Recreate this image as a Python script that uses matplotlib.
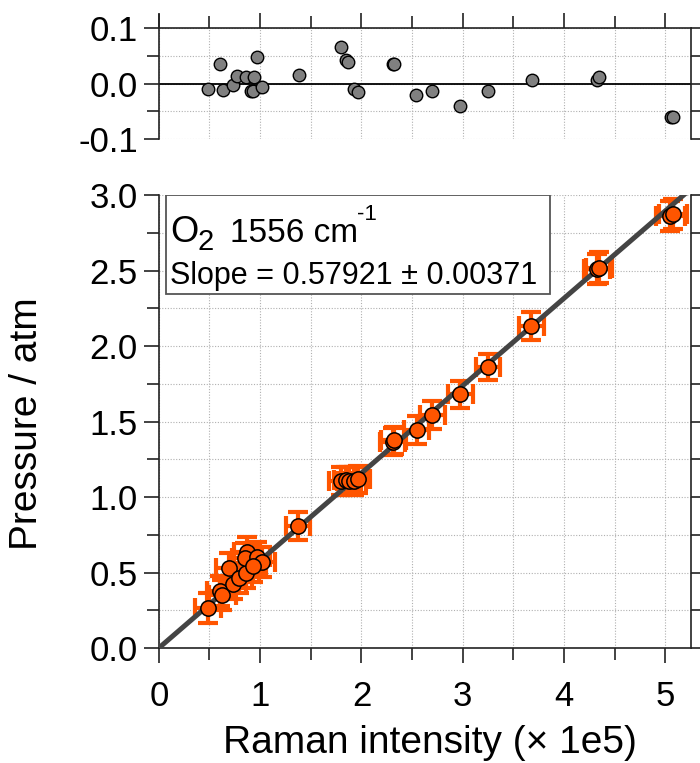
import numpy as np
import matplotlib
matplotlib.use("Agg")
import matplotlib.pyplot as plt
from matplotlib.patches import Rectangle
from matplotlib.ticker import MultipleLocator, FormatStrFormatter

plt.rcParams['font.family'] = ['Liberation Sans', 'DejaVu Sans']
plt.rcParams['axes.unicode_minus'] = False

# ---- residual panel ----
res_x = [0.484, 0.605, 0.629, 0.730, 0.771, 0.858, 0.909, 0.934, 0.941, 0.968, 1.017,
         1.383, 1.798, 1.850, 1.867, 1.926, 1.964, 2.306, 2.317, 2.541, 2.700,
         2.977, 3.247, 3.683, 4.322, 4.346, 5.055, 5.076]
res_y = [-0.009, 0.036, -0.011, -0.003, 0.013, 0.012, -0.013, -0.014, 0.011, 0.047, -0.007,
         0.016, 0.066, 0.042, 0.038, -0.009, -0.015, 0.035, 0.035, -0.021, -0.013,
         -0.041, -0.014, 0.006, 0.007, 0.012, -0.061, -0.061]

# ---- calibration points (Raman intensity x1e5, pressure in atm) ----
intensity = [0.488, 0.603, 0.627, 0.729, 0.696, 0.794, 0.860, 0.873, 0.850, 0.965, 1.015, 0.930,
             1.376, 1.797, 1.850, 1.879, 1.928, 1.967, 2.306, 2.317, 2.543, 2.700,
             2.977, 3.250, 3.677, 4.324, 4.344, 5.048, 5.074]
pressure = [0.267, 0.380, 0.351, 0.422, 0.528, 0.462, 0.495, 0.638, 0.594, 0.605, 0.572, 0.540,
            0.808, 1.106, 1.112, 1.106, 1.106, 1.117, 1.366, 1.375, 1.444, 1.543,
            1.680, 1.863, 2.132, 2.508, 2.520, 2.860, 2.872]
intensity_err = [0.13] * 12 + [0.12, 0.12, 0.12, 0.12, 0.12, 0.12, 0.12, 0.12, 0.12, 0.12,
                               0.12, 0.12, 0.12, 0.13, 0.13, 0.14, 0.14]
pressure_err = [0.10] * 12 + [0.094, 0.09, 0.09, 0.09, 0.09, 0.09, 0.09, 0.09, 0.09, 0.09,
                              0.09, 0.085, 0.09, 0.10, 0.10, 0.10, 0.10]

slope = 0.57921
slope_err = 0.00371

orange = '#ff5500'
spine_col = '#222222'

fig = plt.figure(figsize=(7, 7.63), dpi=100)
ax_r = fig.add_axes([0.2269, 0.8178, 0.760, 0.1455])
ax = fig.add_axes([0.2269, 0.1507, 0.760, 0.5937])

xmax = 5.25

# residuals
ax_r.axhline(0, color='k', lw=1.3, zorder=2)
ax_r.plot(res_x, res_y, 'o', ms=9, mfc='#808080', mec='k', mew=1.0, zorder=3)
ax_r.set_xlim(0, xmax)
ax_r.set_ylim(-0.1, 0.1)
ax_r.xaxis.set_major_locator(MultipleLocator(1))
ax_r.xaxis.set_minor_locator(MultipleLocator(0.5))
ax_r.yaxis.set_major_locator(MultipleLocator(0.1))
ax_r.yaxis.set_minor_locator(MultipleLocator(0.05))
ax_r.xaxis.tick_top()
ax_r.yaxis.set_ticks_position('both')
ax_r.tick_params(labeltop=False, labelbottom=False, labelright=False)
ax_r.spines['bottom'].set_visible(False)
ax_r.yaxis.set_major_formatter(FormatStrFormatter('%.1f'))
# left axis line runs a little above the top axis, as in the original
ax_r.plot([0, 0], [1, 1.13], transform=ax_r.transAxes, color=spine_col, lw=1.2,
          clip_on=False, solid_capstyle='butt')

# main panel
ax.errorbar(intensity, pressure, xerr=intensity_err, yerr=pressure_err, fmt='none',
            ecolor=orange, elinewidth=3.0, capsize=7, capthick=3.0, zorder=2)
fit_x = np.array([0, xmax])
ax.plot(fit_x, slope * fit_x, color='#444444', lw=3.6, zorder=3, solid_capstyle='butt')
ax.plot(intensity, pressure, 'o', ms=11, mfc=orange, mec='k', mew=1.1, zorder=4)
ax.set_xlim(0, xmax)
ax.set_ylim(0, 3.0)
ax.xaxis.set_major_locator(MultipleLocator(1))
ax.xaxis.set_minor_locator(MultipleLocator(0.5))
ax.yaxis.set_major_locator(MultipleLocator(0.5))
ax.yaxis.set_minor_locator(MultipleLocator(0.25))
ax.yaxis.set_ticks_position('both')
ax.tick_params(labelright=False)
ax.spines['top'].set_visible(False)
ax.yaxis.set_major_formatter(FormatStrFormatter('%.1f'))

for a in (ax, ax_r):
    a.grid(which='both', linestyle=(0, (1, 1.5)), color='#b0b0b0', linewidth=0.8, zorder=0)
    a.set_axisbelow(True)
    for s in a.spines.values():
        s.set_linewidth(1.2)
        s.set_color(spine_col)
    a.tick_params(which='major', direction='out', length=11, width=1.2, color=spine_col,
                  labelsize=25, pad=4)
    a.tick_params(which='minor', direction='out', length=8.5, width=1.2, color=spine_col)
ax.tick_params(axis='x', which='major', pad=12)

# annotation box
ax.add_patch(Rectangle((0.07, 2.345), 3.79, 0.655, facecolor='white', edgecolor='#555555',
                       lw=1.3, zorder=5))
ax.text(0.110, 2.689, 'O', fontsize=26, va='baseline', ha='left', zorder=6)
ax.text(0.386, 2.636, '2', fontsize=21, va='baseline', ha='left', zorder=6)
ax.text(0.702, 2.689, '1556 cm', fontsize=24, va='baseline', ha='left', zorder=6)
ax.text(1.955, 2.834, '-1', fontsize=16, va='baseline', ha='left', zorder=6)
ax.text(0.11, 2.41, f'Slope = {slope:.5f} \u00b1 {slope_err:.5f}', fontsize=22,
        va='baseline', ha='left', zorder=6)

fig.text(27 / 700, 1 - 424 / 763, 'Pressure / atm', rotation=90, fontsize=28,
         ha='center', va='center')
fig.text(430 / 700, 1 - 743 / 763, 'Raman intensity (\u00d7 1e5)', fontsize=28,
         ha='center', va='center')

fig.savefig('out.png', dpi=100)
